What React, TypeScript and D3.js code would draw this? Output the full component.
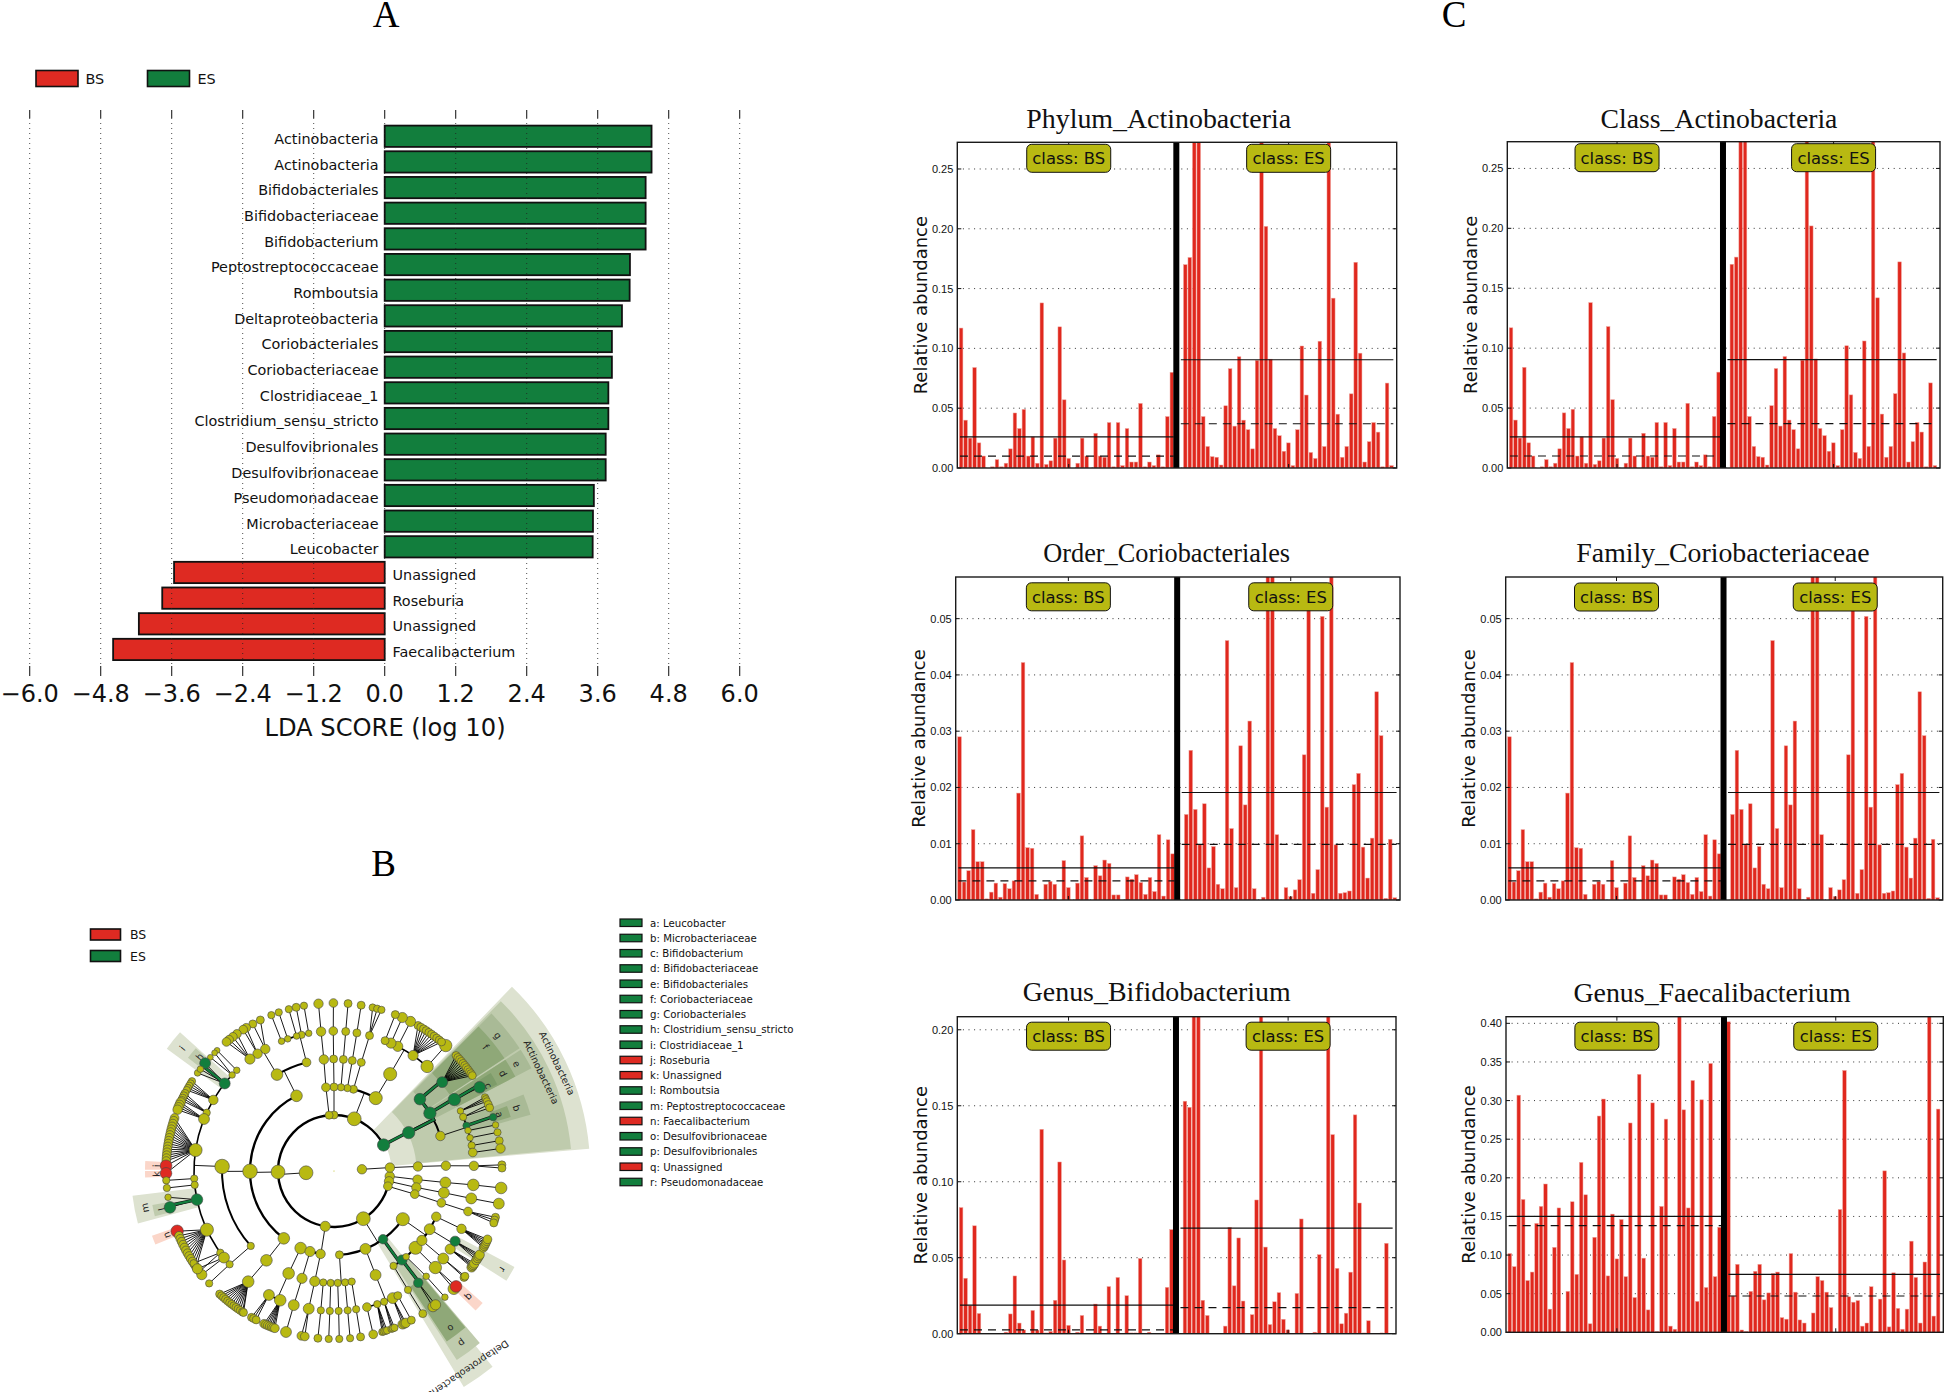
import React from "react";
import * as d3 from "d3";

// Panel A: LDA scores
const ldaTaxa = ["Actinobacteria", "Actinobacteria", "Bifidobacteriales", "Bifidobacteriaceae", "Bifidobacterium", "Peptostreptococcaceae", "Romboutsia", "Deltaproteobacteria", "Coriobacteriales", "Coriobacteriaceae", "Clostridiaceae_1", "Clostridium_sensu_stricto", "Desulfovibrionales", "Desulfovibrionaceae", "Pseudomonadaceae", "Microbacteriaceae", "Leucobacter", "Unassigned", "Roseburia", "Unassigned", "Faecalibacterium"];
const ldaScores = [4.51, 4.51, 4.41, 4.41, 4.41, 4.145, 4.14, 4.01, 3.84, 3.84, 3.78, 3.78, 3.735, 3.735, 3.535, 3.52, 3.515, -3.56, -3.76, -4.155, -4.59];
const ldaTicks = [-6, -4.8, -3.6, -2.4, -1.2, 0, 1.2, 2.4, 3.6, 4.8, 6];

// Panel B: legend
const cladeLegend = ["a: Leucobacter", "b: Microbacteriaceae", "c: Bifidobacterium", "d: Bifidobacteriaceae", "e: Bifidobacteriales", "f: Coriobacteriaceae", "g: Coriobacteriales", "h: Clostridium_sensu_stricto", "i: Clostridiaceae_1", "j: Roseburia", "k: Unassigned", "l: Romboutsia", "m: Peptostreptococcaceae", "n: Faecalibacterium", "o: Desulfovibrionaceae", "p: Desulfovibrionales", "q: Unassigned", "r: Pseudomonadaceae"];
const cladeLegendRed = ["j", "k", "n", "q"];

// Panel B: clades as angle (deg, clockwise from east), node size, children, tone
const c = (a, s, kids = [], tone = "n") => ({ a, s, kids, tone });
const tips = (angles, s) => angles.map((a) => c(a, s));
const G = "g";
const R = "r";

const actinobacteria = c(-27.7, 17, [
  c(-27.2, 17, [
    c(-39.9, 16, [c(-39.4, 15, tips([-43.4, -42.5, -41.6, -40.7, -39.8, -38.9, -38, -37.1, -36.2, -35.4, -34.6], 11), G)], G),
    c(-31.1, 17, [c(-30.7, 17, [c(-29.9, 16, [], G)], G)], G),
    c(-18.2, 13, [
      c(-25.4, 9, tips([-26, -25.3, -24.5], 10)),
      c(-22.7, 10, tips([-23.3, -22.1], 11)),
      c(-18.9, 10, [c(-18.7, 10, [], G)], G),
      c(-16.8, 9, tips([-15.9], 9)),
      c(-13.7, 9, tips([-13.3], 10)),
      c(-10.5, 10, tips([-10.4], 11)),
      c(-7.6, 12, tips([-7.7], 13)),
    ]),
  ], G),
], G);

const phylumNorth = c(-68.8, 19, [
  c(-60.2, 18, [
    c(-59.9, 18, [
      c(-48.3, 17, tips([-48.3], 17)),
      c(-55.6, 14, tips([-60, -58.9, -57.8, -56.7, -55.6, -54.5, -53.4, -52.3, -51.2, -50.2], 11)),
      c(-62.9, 14, tips([-62.9], 14)),
      c(-66, 14, tips([-66], 14)),
      c(-68.6, 11, tips([-68.6], 11)),
    ]),
  ]),
  c(-76.6, 11, [c(-75.9, 11, [c(-75.3, 11, tips([-76.7, -75.1, -73.6], 10))])]),
  c(-80.8, 10, [c(-80.6, 11, [c(-80.6, 11, tips([-80.7], 11))])]),
  c(-85.2, 10, [c(-85.2, 11, [c(-85.2, 11, tips([-85.2], 11))])]),
], "n");
const phylumNorthB = c(-90, 11, [c(-90, 11, [c(-90.2, 11, [c(-90.3, 12, tips([-90.2], 12))])])]);
const phylumNorthC = c(-95, 11, [c(-95.5, 12, [c(-95.2, 13, [c(-95.3, 13, tips([-95.3], 13))])])]);

const firmicutesUpper = c(-116.5, 16, [
  c(-120.6, 16, [
    c(-119.4, 13, tips([-116, -118.9], 11)),
    c(-123.1, 13, tips([-121.5, -122.7], 12)),
    c(-126.9, 14, tips([-125.3, -127, -128.6, -129.8], 12)),
  ]),
  c(-104.2, 12, [
    c(-100.4, 9, tips([-100.3], 10)),
    c(-103.4, 10, tips([-103], 11)),
    c(-105.5, 9, tips([-105.6], 10)),
    c(-109.3, 9, tips([-109.2], 10)),
    c(-112, 9, tips([-111.9], 10)),
  ]),
]);

const firmicutesMiddle = c(179.8, 20, [
  c(-177.7, 20, [
    c(-134, 9, tips([-134.1], 8)),
    c(-136.7, 9, tips([-135.3, -137.4], 8)),
    c(-141.3, 15, [c(-140.1, 15, [], G), c(-144.3, 9), c(-142.7, 9)], G),
    c(-149.5, 13, tips([-147.7, -148.6, -149.5, -150.4, -151.2], 10)),
    c(-155.4, 10, tips([-152.5, -153.4, -154.3, -155.1], 11)),
    c(-158.2, 15, tips([-155.9, -156.8, -157.7, -158.6], 13)),
    c(-171.4, 18, [
      ...tips([-161.6, -162.6, -163.6, -164.6, -165.6, -166.6, -167.6, -168.6, -169.6, -170.6, -171.6, -172.6, -173.6, -174.6, -175.6, -176.6], 12),
      c(-178.2, 16, [], R),
      c(179.2, 16, [], R),
    ]),
    c(176.9, 10, tips([176.8], 10)),
    c(174.3, 10, tips([174.2], 10)),
    c(168.2, 16, [c(171, 9), c(167.5, 16, [], G)], G),
    c(155.2, 18, [
      c(159, 17, [], R),
      ...tips([157.3, 156.2, 155.1, 154, 152.9, 151.8, 150.7, 149.6, 148.5, 147.4, 146.2, 145.1], 12),
    ]),
    c(144.3, 10, tips([143.2, 146.7], 10)),
    c(141.8, 15, tips([141.9, 144.4], 14)),
  ]),
  c(138, 10, [c(138.2, 10, tips([138], 10))]),
]);

const firmicutesLower = c(126.7, 16, [
  c(127.1, 16, [
    c(127.8, 16, tips([132.9, 132, 131.1, 130.2, 129.3, 128.4, 127.5, 126.6, 125.7, 124.8, 123.9, 123, 122.6], 11)),
  ]),
]);

const phylumSouth = c(99, 14, [
  c(113.4, 16, [
    c(113.9, 16, [
      c(117.7, 15, tips([119.4, 118.6, 117.6], 11)),
      c(112.6, 16, tips([114.6, 113.9, 113.2, 112.5, 111.8, 111.2, 110.6], 12)),
    ]),
  ]),
  c(106.6, 14, [c(106.6, 14, [c(106.7, 15, tips([106.6], 15))])]),
  c(99.2, 13, [c(99.9, 14, [c(100.4, 15, tips([101.2, 100], 12))])]),
]);

const proteobacteria = c(58.4, 19, [
  c(86.3, 11, [
    c(95.5, 10, [c(95.4, 10, tips([95.5], 11))]),
    c(91.7, 10, [c(91.7, 10, tips([91.8], 10))]),
    c(88.1, 10, [c(88.1, 10, tips([88.2], 10))]),
    c(84.3, 10, [c(84.4, 10, tips([84.5], 10))]),
    c(80.9, 10, [c(80.9, 10, tips([80.9], 11))]),
  ]),
  c(68, 15, [
    c(68.2, 15, [
      c(76.4, 12, tips([76.5], 12)),
      c(72, 10, tips([73.3, 72.8, 72.2, 71.6], 10)),
      c(69, 10, tips([70, 69.5, 68.9], 10)),
      c(65.2, 15, tips([65.9, 65.2, 64.7], 13)),
      c(62.9, 11, tips([62.6], 11)),
    ]),
  ]),
  c(54.3, 13, [
    c(52.6, 14, [c(53, 13, tips([53.9, 52.8], 14), G)], G),
    c(57.9, 10, [c(58.1, 10, tips([58.1], 11))]),
  ], G),
  c(35, 18, [
    c(49.9, 9, [c(48.8, 9, tips([48.7], 9))]),
    c(43.3, 18, [c(43.6, 17, [c(44.5, 16), c(43.4, 16, [], R)])]),
    c(38.3, 14, [c(38.7, 15, tips([39.3, 38.8], 11))]),
    c(31.3, 15, [
      c(33.9, 14, tips([35, 34.5, 34, 33.4], 13)),
      c(30.1, 14, tips([32, 31.2, 30.5, 29.9], 13), G),
    ]),
    c(24.1, 13, [c(24.4, 13, tips([27.2, 26.6, 26, 25.4, 24.7, 24], 12))]),
  ]),
]);

const archaea = c(-3.5, 13, [c(-3.5, 13, [c(-3.1, 13, [c(-2.7, 13, [c(-2.1, 13, tips([-2.1, -1], 11))])])])]);
const bacteria = c(176.4, 19, [
  actinobacteria,
  phylumNorth,
  phylumNorthB,
  phylumNorthC,
  c(179, 19, [firmicutesUpper, firmicutesMiddle, firmicutesLower]),
  phylumSouth,
  proteobacteria,
  c(5.4, 13, [c(5.9, 13, [c(5.9, 15, [c(5.7, 16, tips([5.8], 16))])])]),
  c(10.6, 13, [c(11.3, 13, [c(11.2, 15, [c(11.3, 15, tips([11.2], 15))])])]),
  c(15.8, 12, [c(16, 12, [c(16.5, 12, [c(16.8, 12, tips([16, 17, 18], 11))])])]),
]);
const cladeRoot = c(0, 1.5, [bacteria, archaea]);

// shaded sectors: from angle, to angle, from level, to level, shade
const sectors = [
  [-46, -5, 2.05, 9.15, "#dde2d0"],
  [-45.5, -5.3, 2.95, 8.5, "#bfcbad"],
  [-45, -33.5, 4, 7.95, "#a9ba96"],
  [-33, -27.5, 4, 7.95, "#a9ba96"],
  [-45, -33.5, 4.95, 7.3, "#8fa878"],
  [-33, -27.5, 4.95, 7.3, "#8fa878"],
  [-32, -28, 5.95, 6.6, "#7e9c6a"],
  [-22, -16, 4.95, 7.3, "#a9ba96"],
  [-20.6, -17, 5.95, 6.6, "#8fa878"],
  [51, 59, 2.95, 9, "#dde2d0"],
  [49.7, 57, 4, 8.05, "#bfcbad"],
  [50, 56.5, 4.95, 7.3, "#8fa878"],
  [-143.8, -138, 4.95, 7.4, "#dde2d0"],
  [-142.2, -138.4, 5.95, 6.6, "#bfcbad"],
  [165, 173, 4.95, 7.25, "#dde2d0"],
  [165.8, 169.4, 5.95, 6.6, "#bfcbad"],
  [28, 32.5, 4.95, 7.3, "#dde2d0"],
  [-179.6, -177, 5.95, 6.75, "#fbd6c9"],
  [178, 180, 5.95, 6.75, "#fbd6c9"],
  [157.6, 160.4, 5.95, 6.9, "#fbd6c9"],
  [41.6, 44.6, 5.95, 7.1, "#fbd6c9"],
];
// sector labels: text, angle, level
const sectorLabels = [
  ["Actinobacteria", -25.8, 8.85],
  ["Actinobacteria", -25.5, 8.2],
  ["Deltaproteobacteria", 56, 8.55],
  ["a", -18.9, 6.25], ["b", -19, 6.9], ["c", -28.9, 6.3], ["d", -30, 6.97], ["e", -30.4, 7.57],
  ["f", -39.3, 7], ["g", -39.6, 7.6], ["h", -139.6, 6.3], ["i", -141, 6.97], ["j", -178.3, 6.35], ["k", 179, 6.35],
  ["l", 167.5, 6.3], ["m", 169, 6.88], ["n", 159, 6.4], ["o", 53.4, 7], ["p", 53.4, 7.66], ["q", 43, 6.6], ["r", 30.3, 6.97],
];

// Panel C: relative abundance per sample
const actinoBS = [0.117, 0.04, 0.025, 0.084, 0.021, 0.01, 0, 0.001, 0.007, 0.001, 0.004, 0.016, 0.046, 0.033, 0.049, 0.01, 0.026, 0.004, 0.138, 0.003, 0.006, 0.025, 0.118, 0.057, 0.008, 0, 0.004, 0.025, 0.01, 0, 0.029, 0.01, 0.009, 0.038, 0.001, 0.038, 0.002, 0.033, 0.005, 0.005, 0.054, 0.001, 0.005, 0.002, 0.011, 0.001, 0.043, 0.08];
const actinoES = [0, 0.17, 0.176, 0.35, 0.35, 0.043, 0.018, 0.0095, 0.009, 0.0025, 0.052, 0.083, 0.035, 0.093, 0.04, 0.032, 0.016, 0.09, 0.3, 0.202, 0.091, 0.033, 0.027, 0.014, 0.021, 0.002, 0.032, 0.102, 0.061, 0.013, 0.008, 0.106, 0.018, 0.3, 0.142, 0.045, 0.009, 0.018, 0.062, 0.172, 0.096, 0.005, 0.022, 0.038, 0.03, 0.001, 0.071, 0.002];
const corioBS = [0.029, 0.0032, 0.0052, 0.0125, 0.0068, 0.0068, 0.0002, 0.0014, 0.003, 0.0005, 0.0029, 0.002, 0.0034, 0.019, 0.0422, 0.0093, 0.0092, 0.001, 0, 0.0028, 0.0033, 0.0028, 0, 0.007, 0.0022, 0, 0.003, 0.0114, 0.004, 0, 0.0061, 0.0043, 0.0071, 0.0065, 0.0009, 0.0009, 0, 0.0041, 0.0037, 0.0045, 0.0031, 0.001, 0.004, 0.0015, 0.0116, 0.0007, 0.0107, 0.0082];
const corioES = [0, 0.0152, 0.0266, 0.0161, 0.0098, 0.0171, 0.0057, 0.0095, 0.0028, 0.002, 0.0461, 0.0127, 0.0022, 0.0274, 0.0169, 0.0318, 0.002, 0, 0.0005, 0.07, 0.07, 0.0116, 0, 0.0022, 0.0006, 0.0018, 0.0036, 0.0258, 0.053, 0.0012, 0.0054, 0.0504, 0.0165, 0.07, 0.0098, 0.0012, 0.0013, 0.0016, 0.0205, 0.0225, 0.0094, 0.0039, 0.011, 0.037, 0.0292, 0.0003, 0.0108, 0.0004];
const bifidoBS = [0.083, 0.0365, 0.0185, 0.071, 0.0133, 0, 0, 0, 0, 0, 0.001, 0.013, 0.038, 0.007, 0.0025, 0, 0.0153, 0.0024, 0.1345, 0.0005, 0.0015, 0.022, 0.113, 0.0485, 0.0055, 0, 0.001, 0.012, 0, 0, 0.0195, 0.005, 0, 0.031, 0, 0.037, 0, 0.025, 0.0005, 0.0005, 0.0495, 0, 0.001, 0, 0, 0, 0.0305, 0.0685];
const bifidoES = [0, 0.153, 0.149, 0.3, 0.3, 0.022, 0.012, 0, 0, 0, 0.005, 0.07, 0.0315, 0.063, 0.0215, 0, 0.0125, 0.088, 0.3, 0.057, 0.006, 0.021, 0.027, 0.0095, 0.0025, 0, 0.0265, 0.0755, 0.0002, 0, 0.001, 0.052, 0, 0.3, 0.131, 0.043, 0.0065, 0.0135, 0.0405, 0.144, 0.086, 0.0005, 0.0085, 0, 0, 0.0005, 0.0595, 0];
const faecaliBS = [0.102, 0.085, 0.307, 0.172, 0.067, 0.078, 0.141, 0.163, 0.192, 0.03, 0.11, 0.161, 0.001, 0.053, 0.169, 0.075, 0.22, 0.178, 0.011, 0.123, 0.28, 0.302, 0.073, 0.153, 0.095, 0.146, 0.072, 0.271, 0.045, 0.334, 0.096, 0.029, 0.297, 0.001, 0.163, 0.276, 0.008, 0.004, 0.5, 0.288, 0.161, 0.326, 0.04, 0.301, 0.058, 0.348, 0.072, 0.136];
const faecaliES = [0.402, 0.047, 0.088, 0.003, 0.001, 0.053, 0.079, 0.088, 0.042, 0.051, 0.076, 0.078, 0.019, 0.017, 0.102, 0.052, 0.016, 0.012, 0, 0.025, 0.072, 0.067, 0.052, 0.032, 0, 0.159, 0.339, 0.046, 0.039, 0.041, 0.008, 0.012, 0.059, 0.001, 0.043, 0.209, 0.007, 0.077, 0.031, 0.004, 0.03, 0.118, 0.071, 0.012, 0.091, 0.5, 0.021, 0.289];
const ticks05 = [0, 0.05, 0.1, 0.15, 0.2, 0.25];
const ticks01 = [0, 0.01, 0.02, 0.03, 0.04, 0.05];
const ticksBifido = [0, 0.05, 0.1, 0.15, 0.2];
const ticksFaecali = [0, 0.05, 0.1, 0.15, 0.2, 0.25, 0.3, 0.35, 0.4];

const panels = [
  { title: "Phylum_Actinobacteria", bs: actinoBS, es: actinoES, mean: [0.026, 0.0905], median: [0.01, 0.037], yMax: 0.2723, ticks: ticks05, x: [957.3, 1396.7], y: [142.3, 468], titleX: 1158.7, titleY: 128, titleSize: 27.9, boxDy: 16 },
  { title: "Class_Actinobacteria", bs: actinoBS, es: actinoES, mean: [0.026, 0.0905], median: [0.01, 0.037], yMax: 0.2723, ticks: ticks05, x: [1507.3, 1940], y: [141.7, 468], titleX: 1719, titleY: 128, titleSize: 27.7, boxDy: 16 },
  { title: "Order_Coriobacteriales", bs: corioBS, es: corioES, mean: [0.0057, 0.0191], median: [0.0034, 0.0099], yMax: 0.0574, ticks: ticks01, x: [955.7, 1400], y: [577, 900], titleX: 1166.7, titleY: 561.7, titleSize: 26.3, boxDy: 19.8 },
  { title: "Family_Coriobacteriaceae", bs: corioBS, es: corioES, mean: [0.0057, 0.0191], median: [0.0034, 0.0099], yMax: 0.0574, ticks: ticks01, x: [1505.7, 1942.7], y: [577, 900], titleX: 1723, titleY: 561.7, titleSize: 27.8, boxDy: 20 },
  { title: "Genus_Bifidobacterium", bs: bifidoBS, es: bifidoES, mean: [0.0188, 0.0695], median: [0.0025, 0.0172], yMax: 0.2086, ticks: ticksBifido, x: [957.3, 1396], y: [1016.7, 1333.7], titleX: 1156.7, titleY: 1000.7, titleSize: 27.9, boxDy: 19.5 },
  { title: "Genus_Faecalibacterium", bs: faecaliBS, es: faecaliES, mean: [0.15, 0.075], median: [0.138, 0.047], yMax: 0.4086, ticks: ticksFaecali, x: [1506, 1943.3], y: [1016.7, 1332.3], titleX: 1712, titleY: 1001.7, titleSize: 27.9, boxDy: 19.5 },
];

const GREEN = "#127e3d";
const RED = "#de2a22";
const OLIVE = "#b8b912";
const SANS = "'DejaVu Sans', sans-serif";
const SERIF = "'Liberation Serif', serif";

function Legend({ x, y, w, h, fill, label, size, textX }) {
  return (
    <g>
      <rect x={x} y={y} width={w} height={h} fill={fill} stroke="#111" strokeWidth={1.6} />
      <text x={textX} y={y + h / 2} dy="0.36em" fontFamily={SANS} fontSize={size} fill="#111">{label}</text>
    </g>
  );
}

function LdaPanel() {
  const x = d3.scaleLinear().domain([-6, 6]).range([29.7, 739.7]);
  const y = d3.scaleBand().domain(d3.range(ldaScores.length)).range([125.6, 660.1]).paddingInner(0.17);
  const fmt = d3.format(".1f");
  return (
    <g>
      <text x={386} y={27} textAnchor="middle" fontFamily={SERIF} fontSize={37}>A</text>
      <Legend x={36} y={70.5} w={42} h={16} fill={RED} label="BS" size={14.4} textX={85.5} />
      <Legend x={147.5} y={70.5} w={42} h={16} fill={GREEN} label="ES" size={14.4} textX={197.5} />
      {ldaScores.map((v, i) => (
        <rect key={i} x={x(Math.min(v, 0))} y={y(i)} width={Math.abs(x(v) - x(0))} height={y.bandwidth()} fill={v > 0 ? GREEN : RED} stroke="#111" strokeWidth={1.8} />
      ))}
      {ldaTicks.map((t) => (
        <g key={t} stroke="#222">
          <line x1={x(t)} x2={x(t)} y1={118} y2={666} strokeWidth={1} strokeDasharray="1 4" opacity={0.8} />
          <line x1={x(t)} x2={x(t)} y1={110} y2={118} strokeWidth={1.1} />
          <line x1={x(t)} x2={x(t)} y1={666} y2={676} strokeWidth={1.1} />
        </g>
      ))}
      {ldaTaxa.map((name, i) => (
        <text key={i} x={ldaScores[i] > 0 ? 378.5 : 392.5} y={y(i) + y.bandwidth() / 2 + 2.5} dy="0.36em" textAnchor={ldaScores[i] > 0 ? "end" : "start"} fontFamily={SANS} fontSize={14.4} fill="#111">{name}</text>
      ))}
      {ldaTicks.map((t) => (
        <text key={t} x={x(t)} y={693.5} dy="0.36em" textAnchor="middle" fontFamily={SANS} fontSize={24} fill="#111">{fmt(t)}</text>
      ))}
      <text x={385} y={727} dy="0.36em" textAnchor="middle" fontFamily={SANS} fontSize={24.2} fill="#111">LDA SCORE (log 10)</text>
    </g>
  );
}

function Cladogram() {
  const cx = 334;
  const cy = 1171;
  const rad = d3.scaleLinear().domain([0, 6]).range([0, 168]);
  const nodeR = d3.scaleLinear().domain([0, 19]).range([0, 6.9]);
  const norm = (a) => (a + 360) % 360;
  const pt = (a, r) => [Math.cos((a * Math.PI) / 180) * r, Math.sin((a * Math.PI) / 180) * r];
  const arcPath = (a0, a1, r) => {
    const p = d3.path();
    p.arc(0, 0, r, (a0 * Math.PI) / 180, (a1 * Math.PI) / 180, a1 < a0);
    return p.toString();
  };
  const sector = d3.arc();
  const root = d3.hierarchy(cladeRoot, (d) => d.kids);
  const nodes = root.descendants();
  const tone = (d) => (d.data.tone === G ? GREEN : d.data.tone === R ? RED : OLIVE);
  const arcWidth = { 2: 2.4, 3: 2.3, 4: 2, 5: 1.6 };

  const plainEdges = [];
  const arcs = [];
  const greenEdges = [];
  nodes.forEach((n) => {
    if (!n.children || n.depth === 0) return;
    const kidDepth = n.depth + 1;
    const r = rad(kidDepth);
    const [px, py] = pt(n.data.a, rad(n.depth));
    if (n.children.length === 1 || kidDepth === 6) {
      n.children.forEach((k) => {
        const [qx, qy] = pt(k.data.a, r);
        plainEdges.push([px, py, qx, qy]);
      });
    } else {
      const angles = n.children.map((k) => norm(k.data.a));
      const [qx, qy] = pt(n.data.a, r);
      plainEdges.push([px, py, qx, qy]);
      arcs.push({ d: arcPath(d3.min(angles), d3.max(angles), r), w: arcWidth[kidDepth] });
    }
    if (n.data.tone === G) {
      n.children.filter((k) => k.data.tone === G).forEach((k) => {
        const [qx, qy] = pt(n.data.a, r);
        const d = `M${px},${py}L${qx},${qy}` + arcPath(norm(n.data.a), norm(k.data.a), r).replace(/^M/, "L");
        greenEdges.push(d);
      });
    }
  });

  return (
    <g>
      <text x={383.5} y={876} textAnchor="middle" fontFamily={SERIF} fontSize={37}>B</text>
      <Legend x={90.5} y={929} w={30} h={11} fill={RED} label="BS" size={12.5} textX={130} />
      <Legend x={90.5} y={950.5} w={30} h={11} fill={GREEN} label="ES" size={12.5} textX={130} />
      {cladeLegend.map((name, i) => (
        <g key={name}>
          <rect x={620} y={919 + i * 15.25} width={22} height={7.5} fill={cladeLegendRed.includes(name[0]) ? RED : GREEN} stroke="#111" strokeWidth={1.2} />
          <text x={650} y={923 + i * 15.25} dy="0.36em" fontFamily={SANS} fontSize={10.2} fill="#111">{name}</text>
        </g>
      ))}
      <g transform={`translate(${cx},${cy})`}>
        {sectors.map(([a0, a1, l0, l1, fill], i) => (
          <path key={i} fill={fill} d={sector({ innerRadius: rad(l0), outerRadius: rad(l1), startAngle: ((a0 + 90) * Math.PI) / 180, endAngle: ((a1 + 90) * Math.PI) / 180 })} />
        ))}
        {plainEdges.map(([x1, y1, x2, y2], i) => (
          <line key={i} x1={x1} y1={y1} x2={x2} y2={y2} stroke="#000" strokeWidth={0.9} />
        ))}
        {arcs.map((a, i) => (
          <path key={i} d={a.d} fill="none" stroke="#000" strokeWidth={a.w} />
        ))}
        {greenEdges.map((d, i) => (
          <g key={i} fill="none">
            <path d={d} stroke="#111" strokeWidth={3.4} />
            <path d={d} stroke={GREEN} strokeWidth={2.2} />
          </g>
        ))}
        {sectorLabels.map(([label, a, l]) => {
          const [x, y] = pt(a, rad(l));
          return (
            <text key={label + a} transform={`translate(${x},${y}) rotate(${a + 90})`} textAnchor="middle" dy="0.36em" fontFamily={SANS} fontSize={9.6} fill="#222">{label}</text>
          );
        })}
        {nodes.map((n, i) => {
          const [x, y] = pt(n.data.a, rad(n.depth));
          return <circle key={i} cx={x} cy={y} r={nodeR(n.data.s)} fill={tone(n)} stroke="#444" strokeWidth={n.depth === 0 ? 0 : 0.6} />;
        })}
      </g>
    </g>
  );
}

function AbundancePanel({ p, id }) {
  const x = d3.scaleLinear().domain([-0.85, 97.15]).range(p.x);
  const y = d3.scaleLinear().domain([0, p.yMax]).range([p.y[1], p.y[0]]);
  const bw = (x(1) - x(0)) * 0.8;
  const samples = [...p.bs.map((v, i) => [i, v]), ...p.es.map((v, i) => [i + 49, v])];
  const spans = [[-0.25, 47.4], [49, 96.4]];
  const centers = [24, 73.05];
  const names = ["class: BS", "class: ES"];
  const fmt = d3.format(".2f");
  const w = p.x[1] - p.x[0];
  const midY = (p.y[0] + p.y[1]) / 2;
  return (
    <g>
      <defs>
        <clipPath id={id}>
          <rect x={p.x[0]} y={p.y[0]} width={w} height={p.y[1] - p.y[0]} />
        </clipPath>
      </defs>
      <text x={p.titleX} y={p.titleY} textAnchor="middle" fontFamily={SERIF} fontSize={p.titleSize} fill="#111">{p.title}</text>
      <text transform={`translate(${p.x[0] - 37},${midY}) rotate(-90)`} textAnchor="middle" dy="0.36em" fontFamily={SANS} fontSize={18} fill="#111">Relative abundance</text>
      <g clipPath={`url(#${id})`}>
        {p.ticks.map((t) => (
          <line key={t} x1={p.x[0]} x2={p.x[1]} y1={y(t)} y2={y(t)} stroke="#333" strokeWidth={1} strokeDasharray="1 4.6" />
        ))}
        {samples.map(([i, v]) => (
          <rect key={i} x={x(i) - bw / 2} y={y(v)} width={bw} height={Math.max(y(0) - y(v), 0)} fill="#e0281e" stroke="#f0a49c" strokeWidth={0.5} />
        ))}
        {spans.map((s, k) => (
          <g key={k} stroke="#111">
            <line x1={x(s[0])} x2={x(s[1])} y1={y(p.mean[k])} y2={y(p.mean[k])} strokeWidth={1.2} />
            <line x1={x(s[0])} x2={x(s[1])} y1={y(p.median[k])} y2={y(p.median[k])} strokeWidth={1.2} strokeDasharray="8 6" />
          </g>
        ))}
        <line x1={x(48)} x2={x(48)} y1={p.y[0]} y2={p.y[1]} stroke="#000" strokeWidth={6} />
      </g>
      {p.ticks.map((t) => (
        <g key={t}>
          <line x1={p.x[0]} x2={p.x[0] + 4} y1={y(t)} y2={y(t)} stroke="#111" />
          <line x1={p.x[1] - 4} x2={p.x[1]} y1={y(t)} y2={y(t)} stroke="#111" />
          <text x={p.x[0] - 4} y={y(t)} dy="0.36em" textAnchor="end" fontFamily="'Liberation Sans', sans-serif" fontSize={11} fill="#111">{fmt(t)}</text>
        </g>
      ))}
      {centers.map((m) => (
        <g key={m} stroke="#111">
          <line x1={x(m)} x2={x(m)} y1={p.y[0]} y2={p.y[0] + 4} />
          <line x1={x(m)} x2={x(m)} y1={p.y[1] - 4} y2={p.y[1]} />
        </g>
      ))}
      <rect x={p.x[0]} y={p.y[0]} width={w} height={p.y[1] - p.y[0]} fill="none" stroke="#1a1a1a" strokeWidth={1.4} />
      {centers.map((m, k) => (
        <g key={m}>
          <rect x={x(m) - 42} y={p.y[0] + p.boxDy - 14} width={84} height={28} rx={5} fill={OLIVE} stroke="#111" strokeWidth={1} />
          <text x={x(m)} y={p.y[0] + p.boxDy} dy="0.36em" textAnchor="middle" fontFamily={SANS} fontSize={16.4} fill="#111">{names[k]}</text>
        </g>
      ))}
    </g>
  );
}

export default function App() {
  return (
    <svg width={1946} height={1392} viewBox="0 0 1946 1392" style={{ position: "absolute", left: 0, top: 0, background: "#fff" }}>
      <LdaPanel />
      <Cladogram />
      <text x={1454} y={27} textAnchor="middle" fontFamily={SERIF} fontSize={37}>C</text>
      {panels.map((p, i) => (
        <AbundancePanel key={p.title} p={p} id={`panel-clip-${i}`} />
      ))}
    </svg>
  );
}
